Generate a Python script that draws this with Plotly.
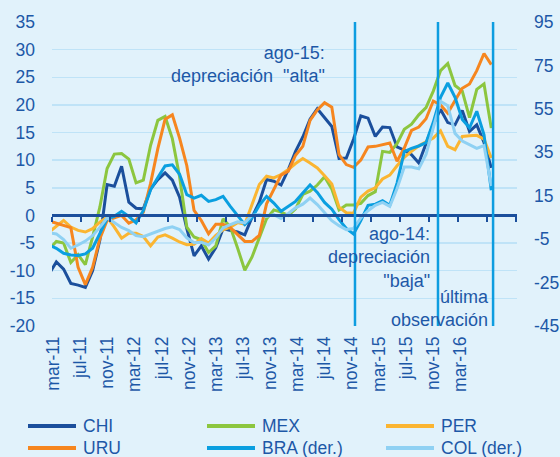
import plotly.graph_objects as go

# month index: 0 = mar-11 (first value, -1, is feb-11)
months = list(range(-1, 61))

chi = [-10.6, -8.4, -9.7, -12.3, -12.6, -13.0, -10.0, -4.5, 5.6, 5.3, 8.9, 2.4, 1.3, 1.2,
       4.8, 6.5, 7.7, 6.4, 3.3, -2.4, -7.3, -5.5, -7.9, -5.8, -2.4, -2.7, -3.0, -3.5,
       -0.3, 2.4, 6.5, 6.2, 5.5, 8.3, 11.6, 14.2, 17.4, 19.3, 17.8, 16.1, 10.3, 10.4,
       13.8, 18.0, 17.6, 14.3, 16.0, 15.9, 12.4, 11.8, 11.0, 9.5, 13.0, 16.5, 19.2,
       16.8, 16.4, 19.0, 15.2, 16.4, 13.2, 8.6]
mex = [-6.1, -4.7, -5.0, -8.5, -7.1, -8.9, -3.9, 1.5, 8.5, 11.1, 11.2, 10.2, 5.9, 6.4,
       12.7, 17.2, 17.9, 13.9, 7.0, -2.1, -3.9, -4.4, -6.7, -5.5, -0.6, -2.1, -5.9, -9.9,
       -7.5, -4.2, -0.6, 1.0, 0.6, 0.0, 1.2, 3.8, 4.4, 5.5, 7.0, 4.8, 1.0, 1.9,
       1.9, 2.2, 3.6, 4.3, 11.6, 11.4, 13.0, 15.6, 16.5, 18.2, 19.5, 22.5, 26.2,
       27.5, 23.5, 22.5, 17.7, 22.8, 23.8, 15.8]
per = [-3.0, -2.0, -0.9, -2.1, -2.7, -3.0, -2.4, -1.2, -0.3, -2.1, -4.1, -3.2, -3.2, -3.8,
       -5.5, -3.9, -3.5, -4.1, -4.8, -5.3, -5.2, -4.2, -5.0, -3.6, -2.6, -2.1, -1.3, -1.6,
       2.1, 5.6, 7.1, 6.8, 7.4, 8.3, 9.4, 10.3, 9.5, 8.6, 7.2, 5.7, 1.5, 0.5,
       0.4, 3.3, 4.4, 5.0, 6.6, 7.3, 9.0, 10.5, 11.6, 12.6, 13.3, 14.0, 15.3,
       12.5, 11.9, 14.3, 14.4, 14.5, 13.8, 10.4]
uru = [-1.0, -1.4, -1.8, -2.2, -9.4, -12.5, -9.4, -4.2, -0.9, -0.5, 0.0, -1.4, -0.8, 0.6,
       5.8, 12.1, 17.4, 18.2, 14.0, 9.0, 0.9, -0.9, -3.3, -1.6, -1.6, -2.2, -3.4, -4.7,
       -4.7, -3.6, 2.1, 4.8, 7.3, 8.0, 10.9, 12.5, 17.2, 19.1, 20.4, 19.6, 11.0, 9.2,
       8.7, 10.0, 12.4, 12.5, 12.8, 13.1, 9.8, 12.2, 15.4, 16.0, 17.5, 20.7, 20.0,
       18.5, 20.8, 23.0, 23.8, 26.2, 29.3, 27.3]
# right axis series
bra = [-7.7, -9.2, -11.5, -12.3, -12.5, -11.8, -9.2, -2.1, 4.3, 5.5, 7.8, 5.5, 2.5, 8.1,
       17.7, 23.4, 28.7, 29.2, 24.9, 15.5, 13.9, 15.2, 12.4, 13.2, 14.7, 10.1, 6.0, 1.7,
       4.8, 10.6, 14.7, 11.6, 7.8, 10.1, 12.4, 16.2, 20.0, 16.5, 11.9, 8.8, 4.0, -0.1,
       -2.6, 3.5, 10.6, 11.1, 12.7, 10.6, 20.8, 35.3, 36.8, 37.9, 39.4, 48.8, 60.3,
       66.9, 60.3, 50.1, 46.3, 53.9, 43.0, 17.5]
col = [-2.1, -2.6, -5.2, -9.2, -7.7, -5.9, -3.4, 0.4, 4.8, 2.5, 0.4, -1.1, -3.4, -3.9,
       -2.6, -1.1, -0.1, 0.7, -0.6, -4.4, -6.7, -6.4, -7.7, -4.4, 0.2, 1.7, 3.0, 2.5,
       6.0, 6.3, 5.5, 6.3, 4.5, 6.8, 9.4, 11.1, 13.9, 10.9, 7.1, 3.5, 1.2, -0.6,
       -0.1, 4.8, 8.1, 10.6, 11.9, 10.1, 18.3, 28.2, 28.2, 27.4, 34.0, 46.3, 58.5,
       56.5, 43.7, 40.2, 38.6, 36.8, 38.1, 19.5]

tick_months = [0, 4, 8, 12, 16, 20, 24, 28, 32, 36, 40, 44, 48, 52, 56, 60]
tick_labels = ["mar-11", "jul-11", "nov-11", "mar-12", "jul-12", "nov-12", "mar-13",
               "jul-13", "nov-13", "mar-14", "jul-14", "nov-14", "mar-15", "jul-15",
               "nov-15", "mar-16"]
left_ticks = [-20, -15, -10, -5, 0, 5, 10, 15, 20, 25, 30, 35]
right_ticks = [-45, -25, -5, 15, 35, 55, 75, 95]
# event months: ago-14, ago-15, last observation
event_months = [41.2, 52.65, 60.25]

FONT = "Liberation Sans, Arial, sans-serif"
TXT = "#1d58a7"
BG = "#e1f2fb"
GRID = "#bfe3f7"
VLINE = "#0d9de0"

colors = {"CHI": "#1b4f9c", "MEX": "#8cc63f", "PER": "#fbb531", "URU": "#f6861f",
          "BRA (der.)": "#0a9fe0", "COL (der.)": "#8fd1f3"}

fig = go.Figure()
series = [("CHI", chi, "y"), ("MEX", mex, "y"), ("PER", per, "y"), ("URU", uru, "y"),
          ("BRA (der.)", bra, "y2"), ("COL (der.)", col, "y2")]
for name, vals, yax in series:
    fig.add_trace(go.Scatter(x=months, y=vals, name=name, mode="lines", yaxis=yax,
                             line=dict(color=colors[name], width=3), showlegend=False,
                             hoverinfo="skip"))
# invisible trace to register label axis
fig.add_trace(go.Scatter(x=[], y=[], xaxis="x2", yaxis="y", showlegend=False, hoverinfo="skip"))

W, H = 560, 457
L, R, T, B = 52, 43, 22, 131
pw, ph = W - L - R, H - T - B

def px(X):
    return (X - L) / pw

def py(Y):
    return (T + ph - Y) / ph

shapes = []
for em in event_months:
    shapes.append(dict(type="line", xref="x", yref="paper", x0=em, x1=em, y0=0, y1=1,
                       line=dict(color=VLINE, width=2.5), layer="above"))

annotations = [
    dict(text='ago-15:<br>depreciación  "alta"', x=px(327), y=py(41), xref="paper", yref="paper",
         xanchor="right", yanchor="top", align="right", showarrow=False,
         font=dict(size=18, color=TXT, family=FONT)),
    dict(text='ago-14:<br>depreciación<br>"baja"', x=px(431.5), y=py(222), xref="paper", yref="paper",
         xanchor="right", yanchor="top", align="right", showarrow=False,
         font=dict(size=18, color=TXT, family=FONT)),
    dict(text='última<br>observación', x=px(491), y=py(285), xref="paper", yref="paper",
         xanchor="right", yanchor="top", align="right", showarrow=False,
         font=dict(size=18, color=TXT, family=FONT)),
]

# manual legend
legend_layout = [("CHI", 28, 426), ("MEX", 207, 426), ("PER", 386, 426),
                 ("URU", 28, 448), ("BRA (der.)", 207, 448), ("COL (der.)", 386, 448)]
for name, X0, Y0 in legend_layout:
    shapes.append(dict(type="line", xref="paper", yref="paper", x0=px(X0), x1=px(X0 + 48),
                       y0=py(Y0), y1=py(Y0), line=dict(color=colors[name], width=4)))
    annotations.append(dict(text=name, x=px(X0 + 53), y=py(Y0), xref="paper", yref="paper",
                            xanchor="left", yanchor="middle", showarrow=False,
                            font=dict(size=17.5, color=TXT, family=FONT)))

fig.update_layout(
    width=W, height=H,
    margin=dict(l=L, r=R, t=T, b=B, pad=0, autoexpand=False),
    paper_bgcolor=BG, plot_bgcolor=BG,
    font=dict(family=FONT, color=TXT, size=17),
    xaxis=dict(range=[-0.6, 63.55], showgrid=False, zeroline=False, showticklabels=False,
               anchor="free", position=20 / 55, showline=True, linecolor="#1b4f9c", linewidth=3,
               ticks="outside", tick0=-0.6, dtick=4, ticklen=5, tickwidth=2, tickcolor="#1b4f9c",
               automargin=False),
    xaxis2=dict(range=[-0.19, 68.36], overlaying="x", anchor="y", side="bottom",
                tickmode="array", tickvals=tick_months, ticktext=tick_labels, tickangle=-90,
                showgrid=False, zeroline=False, showline=False, ticks="", automargin=False,
                tickfont=dict(size=17.5, color=TXT, family=FONT), ticklabelstandoff=6),
    yaxis=dict(range=[-20, 35], tickmode="array", tickvals=left_ticks,
               ticktext=[str(v) for v in left_ticks], showgrid=True,
               gridcolor=GRID, gridwidth=1.5, zeroline=False, showline=False, ticks="",
               automargin=False,
               tickfont=dict(size=17.5, color=TXT, family=FONT), ticklabelstandoff=16),
    yaxis2=dict(range=[-45, 95], tickmode="array", tickvals=right_ticks,
                ticktext=[str(v) for v in right_ticks], overlaying="y",
                side="right", showgrid=False, zeroline=False, showline=False, ticks="",
                automargin=False,
                tickfont=dict(size=17.5, color=TXT, family=FONT), ticklabelstandoff=16),
    shapes=shapes, annotations=annotations,
)

fig.write_html("out.html", config={"displayModeBar": False, "staticPlot": True},
               post_script="document.body.style.margin='0';document.body.style.padding='0';"
                           "document.body.style.background='" + BG + "';")
